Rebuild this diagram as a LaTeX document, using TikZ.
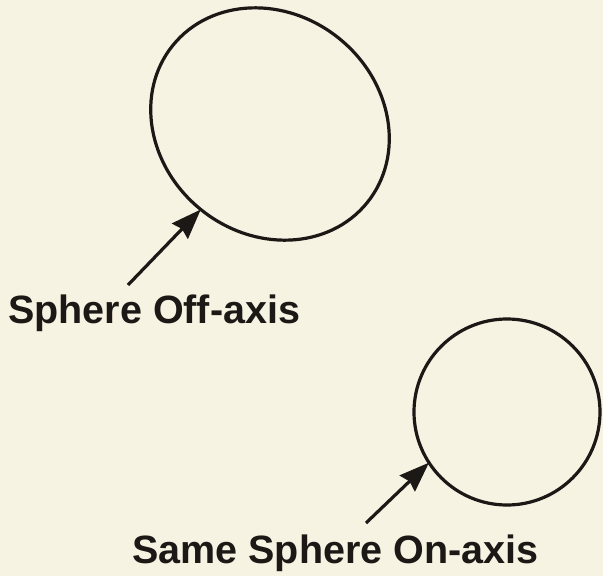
\documentclass[tikz,border=0pt]{standalone}
\usepackage{fontspec}
\setmainfont{Liberation Sans}
\usetikzlibrary{shapes.geometric,arrows.meta}
\definecolor{paper}{RGB}{247,243,226}
\definecolor{ink}{RGB}{28,24,22}
\begin{document}
\begin{tikzpicture}[x=1pt,y=-1pt,
  outline/.style={draw=ink, line width=3.2pt, inner sep=0pt, outer sep=0pt},
  pointer/.style={draw=ink, line width=3.2pt, -{Stealth[length=30pt,width=22pt,inset=3pt]}},
  caption/.style={anchor=base west, inner sep=0pt, text=ink, font=\fontsize{39.5}{40}\selectfont\bfseries}]
\fill[paper] (0,0) rectangle (603,576);
\useasboundingbox (0,0) rectangle (603,576);
\node[outline, ellipse, minimum width=250pt, minimum height=220pt, rotate=-39] (off) at (270,124) {};
\node[outline, circle, minimum size=186pt] (on) at (507,412) {};
\coordinate (offtail) at (128,285);
\coordinate (ontail) at (366,523);
\draw[pointer] (offtail) -- (off.270);
\draw[pointer] (ontail) -- (on.213);
\node[caption] (offlabel) at (8,323) {Sphere Off-axis};
\node[caption] (onlabel) at (132,563) {Same Sphere On-axis};
\end{tikzpicture}
\end{document}
